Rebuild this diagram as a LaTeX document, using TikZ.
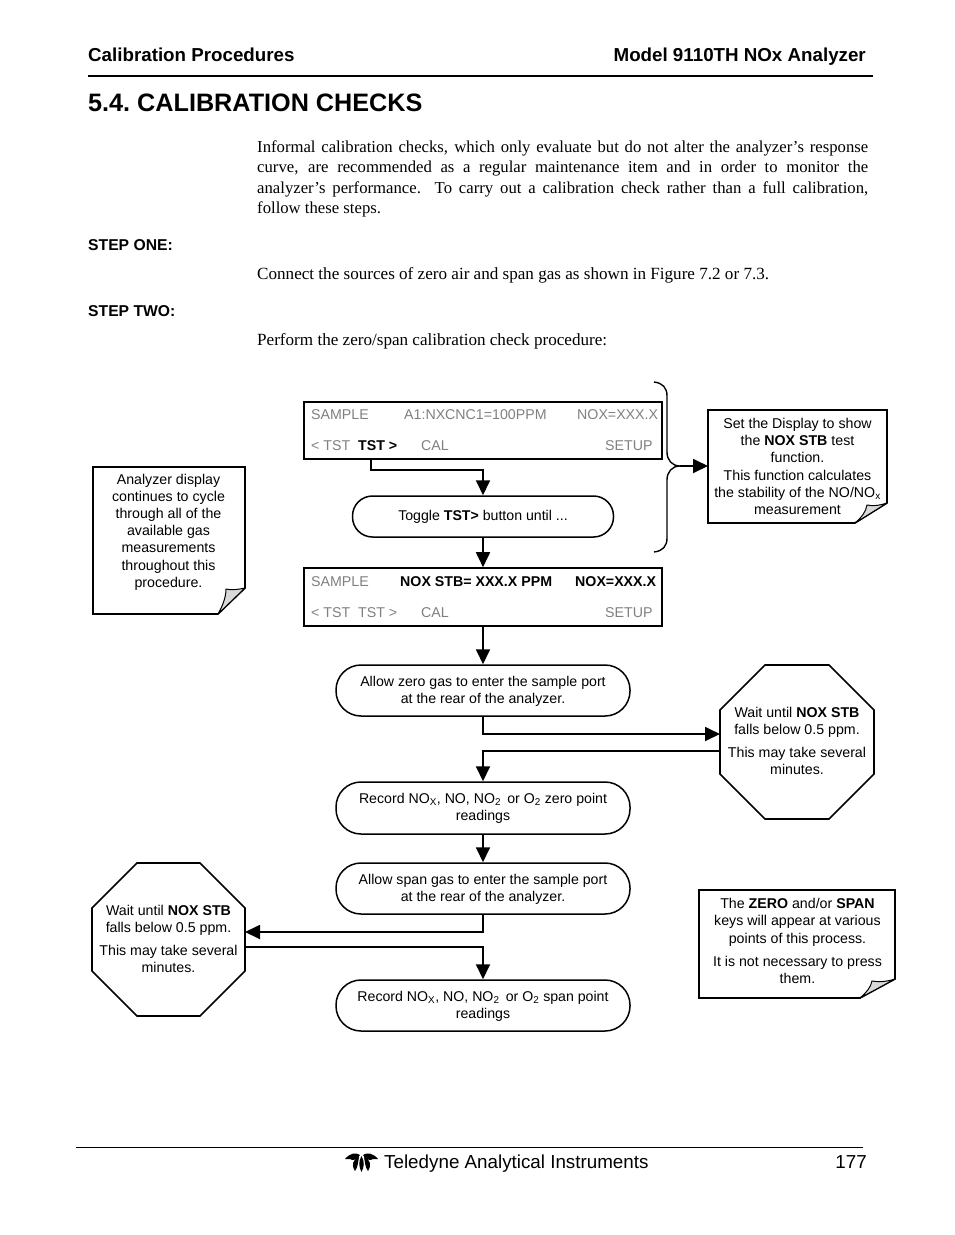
\documentclass[tikz,border=0pt]{standalone}
\usepackage{fontspec}
\usetikzlibrary{arrows.meta}
\setmainfont{Liberation Sans}
\newfontfamily\timesf{Liberation Serif}
\definecolor{graytxt}{HTML}{808080}
\definecolor{foldgray}{HTML}{D9D9D9}
\newcommand{\lowerline}{\rule{0pt}{12.5pt}}
\tikzset{
 x=1pt,y=-1pt,
 flow/.style={line width=1.8pt,-{Triangle[length=15pt,width=14pt]}},
 boxshape/.style={draw=black,line width=1.6pt,fill=white,rectangle,inner sep=0pt},
 pill/.style={draw=black,line width=1.5pt,fill=white,rectangle,rounded corners=25pt,inner sep=0pt,align=center,font=\fontsize{14.15}{17}\selectfont},
 octa/.style={draw=black,line width=1.6pt,fill=white,line join=miter},
 octatext/.style={inner sep=0pt,align=center,font=\fontsize{14.2}{17}\selectfont},
 notetext/.style={align=center,inner sep=0pt,font=\fontsize{14.2}{17.2}\selectfont},
 notebox/.style={draw=black,line width=1.6pt,fill=white,line join=miter},
 foldbox/.style={draw=black,line width=1pt,fill=foldgray,line join=round},
 scr/.style={anchor=base west,inner sep=0pt,font=\fontsize{14.2}{17}\selectfont,text=graytxt},
 scrb/.style={anchor=base west,inner sep=0pt,font=\fontsize{14.2}{17}\selectfont\bfseries,text=black},
 head/.style={anchor=base west,inner sep=0pt,font=\fontsize{18.75}{22}\selectfont\bfseries},
 steplabel/.style={anchor=base west,inner sep=0pt,font=\fontsize{15.7}{17}\selectfont\bfseries},
 body/.style={anchor=base west,inner sep=0pt,font=\fontsize{17.1}{20}\selectfont\timesf},
}
\begin{document}
\begin{tikzpicture}
\useasboundingbox (0,0) rectangle (954,1235);
\fill[white] (0,0) rectangle (954,1235);
% page header
\node[head] (hl) at (88,61) {Calibration Procedures};
\node[head,anchor=base east] (hr) at (866,61) {Model 9110TH NOx Analyzer};
\coordinate (rl) at (88,76); \coordinate (rr) at (873,76);
\draw[line width=1.8pt] (rl) -- (rr);
\node[head,font=\fontsize{25.2}{30}\selectfont\bfseries] (title) at (88,111.5) {5.4.\ CALIBRATION CHECKS};
% body
\node[body,anchor=north west,text width=611pt,align=justify,font=\fontsize{16.7}{20.3}\selectfont\timesf] (para) at (257,140.5) {Informal calibration checks, which only evaluate but do not alter the analyzer’s response\linebreak curve, are recommended as a regular maintenance item and in order to monitor the\linebreak analyzer’s performance.\ \ To carry out a calibration check rather than a full calibration,\linebreak follow these steps.};
\node[steplabel] (s1) at (88,250) {STEP ONE:};
\node[body] (b2) at (257,279) {Connect the sources of zero air and span gas as shown in Figure 7.2 or 7.3.};
\node[steplabel] (s2) at (88,316) {STEP TWO:};
\node[body] (b3) at (257,345) {Perform the zero/span calibration check procedure:};
% screens
\node[boxshape,minimum width=358pt,minimum height=57pt] (scrA) at (483,430.5) {};
\node[scr] (a1) at (311,419) {SAMPLE};
\node[scr] (a2) at (404,419) {A1:NXCNC1=100PPM};
\node[scr] (a3) at (577,419) {NOX=XXX.X};
\node[scr] (a4) at (311,450) {< TST};
\node[scrb] (a5) at (358,450) {TST >};
\node[scr] (a6) at (421,450) {CAL};
\node[scr] (a7) at (605,450) {SETUP};
\node[boxshape,minimum width=358pt,minimum height=58pt] (scrB) at (483,597) {};
\node[scr] (c1) at (311,586) {SAMPLE};
\node[scrb] (c2) at (400,586) {NOX STB= XXX.X PPM};
\node[scrb] (c3) at (575,586) {NOX=XXX.X};
\node[scr] (c4) at (311,617) {< TST};
\node[scr] (c5) at (358,617) {TST >};
\node[scr] (c6) at (421,617) {CAL};
\node[scr] (c7) at (605,617) {SETUP};
% pills
\node[pill,rounded corners=20pt,minimum width=261pt,minimum height=41pt] (toggle) at (483,516.5) {Toggle \textbf{TST>} button until ...};
\node[pill,minimum width=294pt,minimum height=51pt] (zero) at (483,690.5) {\lowerline Allow zero gas to enter the sample port\\at the rear of the analyzer.};
\node[pill,minimum width=294pt,minimum height=52pt] (reczero) at (483,808) {Record NO\textsubscript{X}, NO, NO\textsubscript{2}\, or O\textsubscript{2} zero point\\readings};
\node[pill,minimum width=294pt,minimum height=51pt] (span) at (483,888.5) {\lowerline Allow span gas to enter the sample port\\at the rear of the analyzer.};
\node[pill,minimum width=294pt,minimum height=51pt] (recspan) at (483,1005.5) {\lowerline Record NO\textsubscript{X}, NO, NO\textsubscript{2}\, or O\textsubscript{2} span point\\readings};
% octagons
\draw[octa] (765,665) -- (829,665) -- (874,710) -- (874,774) -- (829,819) -- (765,819) -- (720,774) -- (720,710) -- cycle;
\node[octatext] (octR) at (797,741) {Wait until \textbf{NOX STB}\\falls below 0.5 ppm.\\[6pt]This may take several\\minutes.};
\draw[octa] (137,863) -- (200,863) -- (245,908) -- (245,971) -- (200,1016) -- (137,1016) -- (92,971) -- (92,908) -- cycle;
\node[octatext] (octL) at (168.5,939) {Wait until \textbf{NOX STB}\\falls below 0.5 ppm.\\[6pt]This may take several\\minutes.};
% notes
\draw[notebox] (93,467) -- (245,467) -- (245,588) -- (218,614) -- (93,614) -- cycle;
\draw[foldbox] (245,588) .. controls (236,590) and (230,590) .. (226,589) .. controls (226,598) and (222,607) .. (218,614) -- cycle;
\node[notetext] (noteA) at (168.5,532) {Analyzer display\\continues to cycle\\through all of the\\available gas\\measurements\\throughout this\\procedure.};
\draw[notebox] (708,410) -- (887,410) -- (887,503) -- (855,523) -- (708,523) -- cycle;
\draw[foldbox] (887,503) .. controls (878,506) and (872,506) .. (867,505) .. controls (866,512) and (861,518) .. (855,523) -- cycle;
\node[notetext] (noteB) at (797.5,466.5) {Set the Display to show\\the \textbf{NOX STB} test\\function.\\This function calculates\\the stability of the NO/NO\textsubscript{x}\\measurement};
\draw[notebox] (699,890) -- (895,890) -- (895,979) -- (860,998) -- (699,998) -- cycle;
\draw[foldbox] (895,979) .. controls (886,982) and (878,982) .. (872,981) .. controls (871,987) and (866,993) .. (860,998) -- cycle;
\node[notetext] (noteC) at (797.5,941) {The \textbf{ZERO} and/or \textbf{SPAN}\\keys will appear at various\\points of this process.\\[6pt]It is not necessary to press\\them.};
% brace
\coordinate (brT) at (654,382); \coordinate (brB) at (654,552); \coordinate (brM) at (680,466); \coordinate (noteBw) at (708,466);
\draw[line width=1.4pt] (brT) .. controls (663,383) and (667,388) .. (667,396) -- (667,452) .. controls (667,460) and (672,466) .. (brM) .. controls (672,466) and (667,472) .. (667,480) -- (667,538) .. controls (667,546) and (663,551) .. (brB);
\draw[flow] (brM) -- (noteBw);
% connectors
\coordinate (tst) at (371,459); \coordinate (tstb) at (371,470);
\draw[flow] (tst) -- (tstb) -| (toggle.north);
\draw[flow] (toggle.south) -- (scrB.north);
\draw[flow] (scrB.south) -- (zero.north);
\coordinate (oa) at (720,734); \coordinate (ob) at (720,751);
\draw[flow] (zero.south) |- (oa);
\draw[flow] (ob) -| (reczero.north);
\draw[flow] (reczero.south) -- (span.north);
\coordinate (la) at (245,932); \coordinate (lb) at (245,947);
\draw[flow] (span.south) |- (la);
\draw[flow] (lb) -| (recspan.north);
% footer
\coordinate (fl) at (76,1147); \coordinate (fr) at (863,1147);
\draw[line width=1pt] (fl) -- (fr);
\fill[black] (345,1159) .. controls (350,1153) and (356,1152) .. (360,1155) .. controls (358,1160) and (352,1161) .. (350,1159) -- cycle;
\fill[black] (378,1159) .. controls (373,1153) and (367,1152) .. (363,1155) .. controls (365,1160) and (371,1161) .. (373,1159) -- cycle;
\fill[black] (361.5,1156) .. controls (358,1162) and (359,1167) .. (361.5,1172) .. controls (364,1167) and (365,1162) .. (361.5,1156) -- cycle;
\fill[black] (359,1157) .. controls (353,1159) and (351,1165) .. (355,1171) .. controls (358,1167) and (358,1162) .. (359,1157) -- cycle;
\fill[black] (364,1157) .. controls (370,1159) and (372,1165) .. (368,1171) .. controls (365,1167) and (365,1162) .. (364,1157) -- cycle;
\node[anchor=base west,inner sep=0pt,font=\fontsize{18.8}{22}\selectfont] (ft) at (384,1168) {Teledyne Analytical Instruments};
\node[anchor=base east,inner sep=0pt,font=\fontsize{18.8}{22}\selectfont] (pg) at (867,1168) {177};
\end{tikzpicture}
\end{document}
